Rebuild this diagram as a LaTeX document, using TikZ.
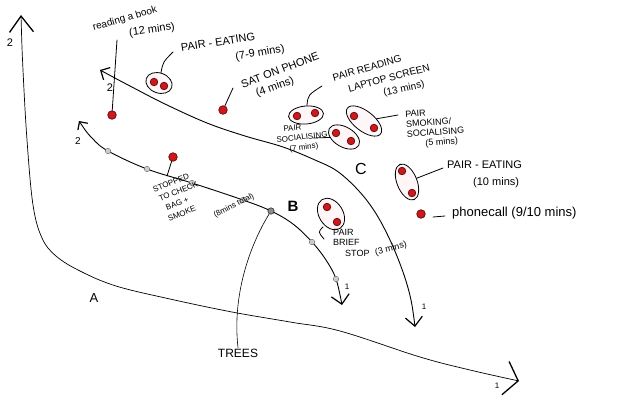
\documentclass[tikz,border=0pt]{standalone}
\usepackage{fontspec}
\setmainfont{Liberation Sans}
\usetikzlibrary{arrows.meta,shapes.geometric}
\definecolor{dotred}{RGB}{205,25,30}
\definecolor{dotrim}{RGB}{110,15,15}
\begin{document}
\begin{tikzpicture}[x=1pt, y=-1pt, line cap=round]
  % Define dot, pair and label styles
  \tikzstyle{reddot} = [circle, draw=dotrim, fill=dotred, thick, inner sep=0pt, minimum size=8.5pt]
  \tikzstyle{pairdot} = [reddot, minimum size=7.5pt]
  \tikzstyle{greydot} = [circle, draw=black!60, fill=black!20, inner sep=0pt, minimum size=5.5pt]
  \tikzstyle{pairbox} = [ellipse, draw=black, thick, fill=red!3, inner sep=0pt]
  \tikzstyle{note} = [font=\fontsize{10}{10.5}\selectfont, inner sep=0pt, align=left]
  \tikzstyle{largenote} = [note, font=\fontsize{11}{17}\selectfont]
  \tikzstyle{smallnote} = [note, font=\fontsize{8}{10}\selectfont]
  \tikzstyle{ticklbl} = [font=\fontsize{10}{10}\selectfont, inner sep=0pt]
  \tikzstyle{track} = [line width=0.9pt]

  \fill[white] (0,0) rectangle (623,418);
  \useasboundingbox (0,0) rectangle (623,418);

  % axis A
  \coordinate (a1) at (21,15);   \coordinate (a2) at (23,70);
  \coordinate (a3) at (27,140);  \coordinate (a4) at (33,205);
  \coordinate (a5) at (42,238);  \coordinate (a6) at (56,256);
  \coordinate (a7) at (80,271);  \coordinate (a8) at (116,286);
  \coordinate (a9) at (170,299); \coordinate (a10) at (232,312);
  \coordinate (a11) at (290,322); \coordinate (a12) at (340,331);
  \coordinate (a13) at (420,357); \coordinate (a14) at (470,370);
  \coordinate (a15) at (519,381);
  \draw[line width=0.7pt, {Straight Barb[length=16pt,width=24pt,line width=1.3pt]}-{Straight Barb[length=13pt,width=34pt,line width=1.3pt]}]
    plot[smooth, tension=0.6] coordinates {(a1) (a2) (a3) (a4) (a5) (a6) (a7) (a8) (a9) (a10) (a11) (a12) (a13) (a14) (a15)};

  % track C
  \coordinate (c1) at (100,70);  \coordinate (c2) at (130,86);
  \coordinate (c3) at (165,104); \coordinate (c4) at (207,123);
  \coordinate (c5) at (245,136); \coordinate (c6) at (283,147);
  \coordinate (c7) at (315,160); \coordinate (c8) at (337,171);
  \coordinate (c9) at (358,190); \coordinate (c10) at (375,212);
  \coordinate (c11) at (390,240); \coordinate (c12) at (403,272);
  \coordinate (c13) at (411,300); \coordinate (c14) at (415,327);
  \draw[track, {Straight Barb[length=7pt,width=14pt,line width=1.2pt]}-{Straight Barb[length=9pt,width=17pt,line width=1.2pt]}]
    plot[smooth, tension=0.6] coordinates {(c1) (c2) (c3) (c4) (c5) (c6) (c7) (c8) (c9) (c10) (c11) (c12) (c13) (c14)};

  % track B
  \coordinate (b0) at (79,121);  \coordinate (b1) at (92,138);
  \coordinate (b2) at (108,151); \coordinate (b3) at (147,169);
  \coordinate (b4) at (192,183); \coordinate (b5) at (243,200);
  \coordinate (b6) at (271,211); \coordinate (b7) at (293,224);
  \coordinate (b8) at (312,242); \coordinate (b9) at (326,260);
  \coordinate (b10) at (336,279); \coordinate (b11) at (342,305);
  \draw[track, {Straight Barb[length=6pt,width=12pt,line width=1.2pt]}-{Straight Barb[length=9pt,width=18pt,line width=1.2pt]}]
    plot[smooth, tension=0.6] coordinates {(b0) (b1) (b2) (b3) (b4) (b5) (b6) (b7) (b8) (b9) (b10) (b11)};
  \foreach \p in {b2,b3,b4,b5,b8,b10}
    \node[greydot] at (\p) {};
  \node[greydot, draw=black, fill=black!45, minimum size=6.5pt] (bstop) at (b6) {};

  % axis and track labels
  \node[font=\fontsize{13}{13}\selectfont] (alabel) at (94,298) {A};
  \node[font=\fontsize{15}{15}\selectfont\bfseries] (blabel) at (293,206) {B};
  \node[font=\fontsize{16}{16}\selectfont] (clabel) at (361,169) {C};
  \node[ticklbl, font=\fontsize{11}{11}\selectfont] (atwo) at (10,43) {2};
  \node[ticklbl, font=\fontsize{11}{11}\selectfont] (ctwo) at (110,88) {2};
  \node[ticklbl] (btwo) at (78,141) {2};
  \node[ticklbl, font=\fontsize{8}{8}\selectfont] (bone) at (347,287) {1};
  \node[ticklbl, font=\fontsize{8}{8}\selectfont] (cone) at (424,307) {1};
  \node[ticklbl, font=\fontsize{8}{8}\selectfont] (aone) at (497,386) {1};

  % trees
  \node[font=\fontsize{12}{12}\selectfont, inner sep=1pt] (treeslbl) at (238,353) {TREES};
  \draw[line width=0.6pt] (bstop) .. controls (250,245) and (232,295) .. (treeslbl.north);

  % single stops
  \node[reddot] (book) at (112,115) {};
  \node[reddot] (phone) at (223,110) {};
  \node[reddot] (stopdot) at (173,157) {};
  \node[reddot] (call) at (421,214) {};

  % pairs
  \node[pairbox, minimum width=27pt, minimum height=20pt, rotate=-20] (eat1) at (159,83) {};
  \node[pairdot] at (154,82) {};
  \node[pairdot] at (164,86) {};
  \node[pairbox, minimum width=35pt, minimum height=18pt, rotate=5] (read) at (306,115) {};
  \node[pairdot] at (297,116) {};
  \node[pairdot] at (315,113) {};
  \node[pairbox, minimum width=34pt, minimum height=20pt, rotate=-30] (social) at (344,137) {};
  \node[pairdot] at (336,133) {};
  \node[pairdot] at (351,141) {};
  \node[pairbox, minimum width=42pt, minimum height=20pt, rotate=-38] (smoke) at (364,121) {};
  \node[pairdot] at (354,116) {};
  \node[pairdot] at (374,128) {};
  \node[pairbox, minimum width=38pt, minimum height=20pt, rotate=-68] (eat2) at (407,182) {};
  \node[pairdot] at (402,171) {};
  \node[pairdot] at (412,193) {};
  \node[pairbox, minimum width=34pt, minimum height=24pt, rotate=-58] (brief) at (331,214) {};
  \node[pairdot] at (327,207) {};
  \node[pairdot] at (337,222) {};

  % labels
  \node[note, rotate=16] (booktop) at (125,19) {reading a book};
  \node[note, font=\fontsize{11}{11}\selectfont, rotate=8] (bookmins) at (152,30) {(12 mins)};
  \node[largenote, rotate=9] (eat1top) at (218,42) {PAIR - EATING};
  \node[largenote, rotate=10] (eat1mins) at (260,53) {(7-9 mins)};
  \node[largenote, rotate=21] (phonetop) at (280,70) {SAT ON PHONE};
  \node[largenote, rotate=20] (phonemins) at (275,87) {(4 mins)};
  \node[note, rotate=16] (readtop) at (367,68) {PAIR READING};
  \node[note, rotate=15] (readmid) at (389,78) {LAPTOP SCREEN};
  \node[note, rotate=12] (readmins) at (404,89) {(13 mins)};
  \node[smallnote, rotate=6, anchor=north west] (sociallbl) at (275,127) {\hspace{8pt}PAIR\\SOCIALISING\\\hspace{12pt}(7 mins)};
  \node[note, font=\fontsize{9}{10}\selectfont, rotate=4, anchor=north west] (smokelbl) at (405,111) {PAIR\\SMOKING/\\SOCIALISING\\\hspace{18pt}(5 mins)};
  \node[largenote, anchor=north west] (eat2lbl) at (447,161) {PAIR - EATING\\\hspace{26pt}(10 mins)};
  \node[note, font=\fontsize{13}{13}\selectfont, anchor=west] (calllbl) at (452,213) {phonecall (9/10 mins)};
  \node[note, font=\fontsize{9}{10.5}\selectfont, anchor=north west] (brieflbl) at (333,229) {PAIR\\BRIEF\\\hspace{12pt}STOP};
  \node[note, font=\fontsize{9}{9}\selectfont, rotate=15] (briefmins) at (391,249) {(3 mins)};
  \node[smallnote, font=\fontsize{8}{11}\selectfont, rotate=22, anchor=north west] (stoplbl) at (152,187) {STOPPED\\\hspace{2pt}TO CHECK\\\hspace{5pt}BAG +\\\hspace{3pt}SMOKE};
  \node[smallnote, font=\fontsize{8}{9}\selectfont, rotate=27] (stopmins) at (234,206) {(8mins total)};

  % leaders
  \coordinate (bookend) at (117,40);
  \coordinate (eat1end) at (173,52);
  \coordinate (phoneend) at (233,88);
  \coordinate (readend) at (322,86);
  \coordinate (socialend) at (313,138);
  \coordinate (smokeend) at (398,115);
  \coordinate (eat2end) at (443,168);
  \coordinate (stopend) at (167,176);
  \coordinate (calla) at (433,217);
  \coordinate (callb) at (445,216);
  \coordinate (briefa) at (323,227);
  \coordinate (briefb) at (324,239);
  \draw[thick] (bookend) .. controls (114,75) .. (book);
  \draw[thick] (eat1end) .. controls (163,62) .. (eat1);
  \draw[thick] (phoneend) -- (phone);
  \draw[thick] (readend) .. controls (308,95) .. (read);
  \draw[thick] (socialend) -- (social);
  \draw[thick] (smokeend) -- (smoke);
  \draw[thick] (eat2end) -- (eat2);
  \draw[thick] (stopend) -- (stopdot);
  \draw[thick] (calla) -- (callb);
  \draw[thick] (briefa) .. controls (318,232) .. (briefb);
\end{tikzpicture}
\end{document}
